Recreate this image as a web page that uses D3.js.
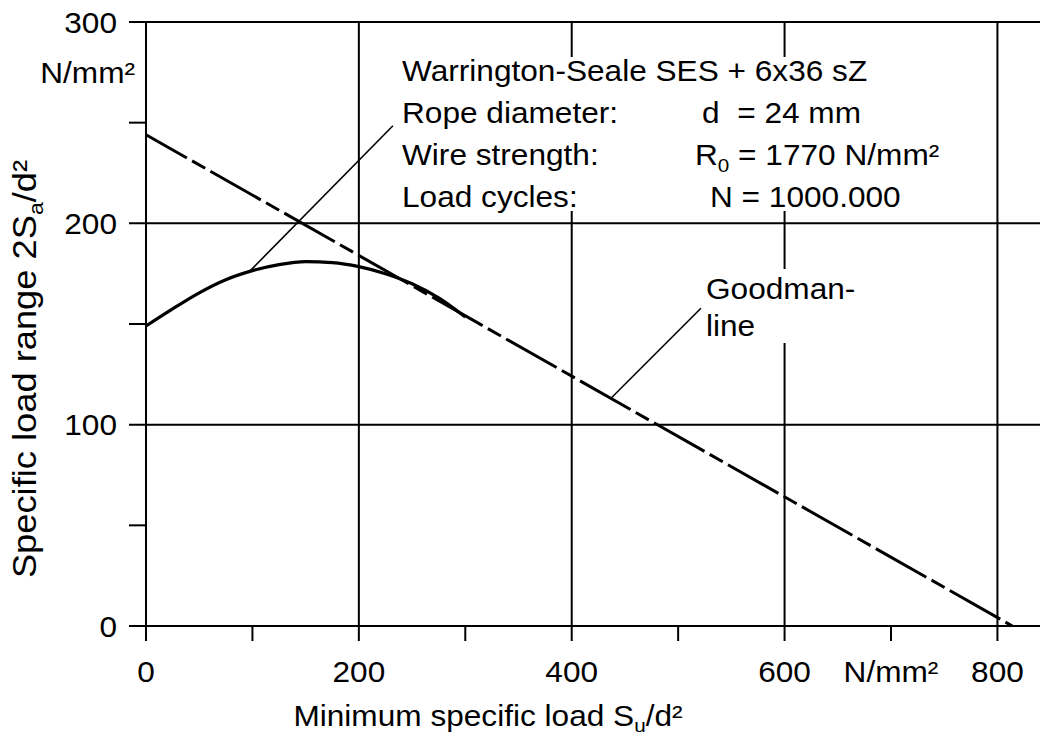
<!DOCTYPE html>
<html>
<head>
<meta charset="utf-8">
<script src="https://cdn.jsdelivr.net/npm/d3@7"></script>
<style>
  html, body { margin: 0; padding: 0; background: #fff; }
  svg { display: block; }
  text { font-family: "Liberation Sans", Arial, sans-serif; fill: #000; white-space: pre; }
</style>
</head>
<body>
<svg id="chart" width="1040" height="736"></svg>
<script>
// Axis ticks and labels
const xMajorTicks = [0, 200, 400, 600, 800];
const xMinorTicks = [100, 300, 500, 700];
const xLabelValues = [0, 200, 400, 600, 700, 800];
const xLabelTexts = ["0", "200", "400", "600", "N/mm²", "800"];
const yMajorTicks = [0, 100, 200, 300];
const yMinorTicks = [50, 150, 250];
const yLabelValues = [0, 100, 200, 300, 275];
const yLabelTexts = ["0", "100", "200", "300", "N/mm²"];

// Fatigue-strength curve: minimum specific load vs. specific load range
const curveSu = [0, 25, 50, 75, 100, 125, 150, 175, 200, 225, 250, 275, 300];
const curveRange = [149, 157.5, 165.5, 172, 176.5, 179.5, 181, 180.5, 178.5, 175, 170, 163, 153.5];

// Goodman line end points
const goodmanSu = [0, 814];
const goodmanRange = [244, 0];

// Leader lines for the two annotations (from the mark to the label)
const leaderCurveSu = [98, 232];
const leaderCurveRange = [176.5, 248.5];
const leaderGoodmanSu = [437.6, 521.4];
const leaderGoodmanRange = [113.5, 157.8];

// Annotation text
const infoLabels = ["Warrington-Seale SES + 6x36 sZ", "Rope diameter:", "Wire strength:", "Load cycles:"];

(function () {
  const svg = d3.select("#chart");
  const W = 1040;
  const padLeft = 146, padTop = 22, baseY = 626;

  const x = d3.scaleLinear().domain([0, 840]).range([padLeft, W]);
  const y = d3.scaleLinear().domain([0, 300]).range([baseY, padTop]);

  const FS = 29, SX = 1.09;
  function label(g, px, py, anchor, size) {
    return g.append("text")
      .attr("transform", `translate(${px},${py}) scale(${SX},1)`)
      .attr("text-anchor", anchor || "start")
      .style("font-size", (size || FS) + "px");
  }

  const grid = svg.append("g").attr("stroke", "#000").attr("stroke-width", 2).attr("fill", "none");

  // vertical grid lines, continuing below the axis as ticks
  grid.selectAll("line.vx").data(xMajorTicks).join("line").attr("class", "vx")
    .attr("x1", d => x(d)).attr("x2", d => x(d))
    .attr("y1", y(300)).attr("y2", baseY + 15);
  // minor x ticks
  grid.selectAll("line.mx").data(xMinorTicks).join("line").attr("class", "mx")
    .attr("x1", d => x(d)).attr("x2", d => x(d))
    .attr("y1", baseY).attr("y2", baseY + 15);
  // horizontal grid lines, continuing left of the axis as ticks
  grid.selectAll("line.hy").data(yMajorTicks).join("line").attr("class", "hy")
    .attr("x1", padLeft - 17).attr("x2", W)
    .attr("y1", d => y(d)).attr("y2", d => y(d));
  // minor y ticks
  grid.selectAll("line.my").data(yMinorTicks).join("line").attr("class", "my")
    .attr("x1", padLeft - 17).attr("x2", padLeft)
    .attr("y1", d => y(d)).attr("y2", d => y(d));

  // white backgrounds behind the annotation texts
  svg.append("rect").attr("x", 396).attr("y", 57).attr("width", 556).attr("height", 154).attr("fill", "#fff");
  svg.append("rect").attr("x", 702).attr("y", 269).attr("width", 170).attr("height", 74).attr("fill", "#fff");

  // tick labels
  const tl = svg.append("g");
  xLabelValues.forEach((v, i) => label(tl, x(v), 682, "middle").text(xLabelTexts[i]));
  yLabelValues.forEach((v, i) => label(tl, i === 4 ? 135 : 117, y(v) + 10.5, "end").text(yLabelTexts[i]));

  // axis titles
  const xt = label(svg, 488, 726, "middle");
  xt.append("tspan").text("Minimum specific load S");
  xt.append("tspan").attr("dy", 6).style("font-size", "19px").text("u");
  xt.append("tspan").attr("dy", -6).text("/d²");

  const yt = svg.append("text")
    .attr("transform", "translate(36,369) rotate(-90) scale(1.1,1)")
    .attr("text-anchor", "middle")
    .style("font-size", "33px");
  yt.append("tspan").text("Specific load range 2S");
  yt.append("tspan").attr("dy", 7).style("font-size", "21px").text("a");
  yt.append("tspan").attr("dy", -7).text("/d²");

  // annotation block
  const rows = [81, 123, 165, 207];
  infoLabels.forEach((s, i) => label(svg, 402, rows[i]).text(s));
  label(svg, 702, rows[1]).text("d  = 24 mm");
  const r0 = label(svg, 695, rows[2]);
  r0.append("tspan").text("R");
  r0.append("tspan").attr("dy", 7).style("font-size", "19px").text("0");
  r0.append("tspan").attr("dy", -7).text(" = 1770 N/mm²");
  label(svg, 710, rows[3]).text("N = 1000.000");

  label(svg, 706, 299).text("Goodman-");
  label(svg, 706, 336).text("line");

  // Goodman line (dash-dot)
  const lineGen = d3.line().x(d => x(d[0])).y(d => y(d[1]));
  svg.append("path")
    .datum(d3.zip(goodmanSu, goodmanRange))
    .attr("d", lineGen)
    .attr("fill", "none").attr("stroke", "#000").attr("stroke-width", 3)
    .attr("stroke-dasharray", "58,6,15,6")
    .attr("stroke-dashoffset", 11);

  // fatigue curve
  svg.append("path")
    .datum(d3.zip(curveSu, curveRange))
    .attr("d", d3.line().x(d => x(d[0])).y(d => y(d[1])).curve(d3.curveMonotoneX))
    .attr("fill", "none").attr("stroke", "#000").attr("stroke-width", 3.2);

  // leader lines
  [[leaderCurveSu, leaderCurveRange], [leaderGoodmanSu, leaderGoodmanRange]].forEach(([xs, ys]) => {
    svg.append("path")
      .datum(d3.zip(xs, ys))
      .attr("d", lineGen)
      .attr("fill", "none").attr("stroke", "#000").attr("stroke-width", 1.6);
  });
})();
</script>
</body>
</html>
